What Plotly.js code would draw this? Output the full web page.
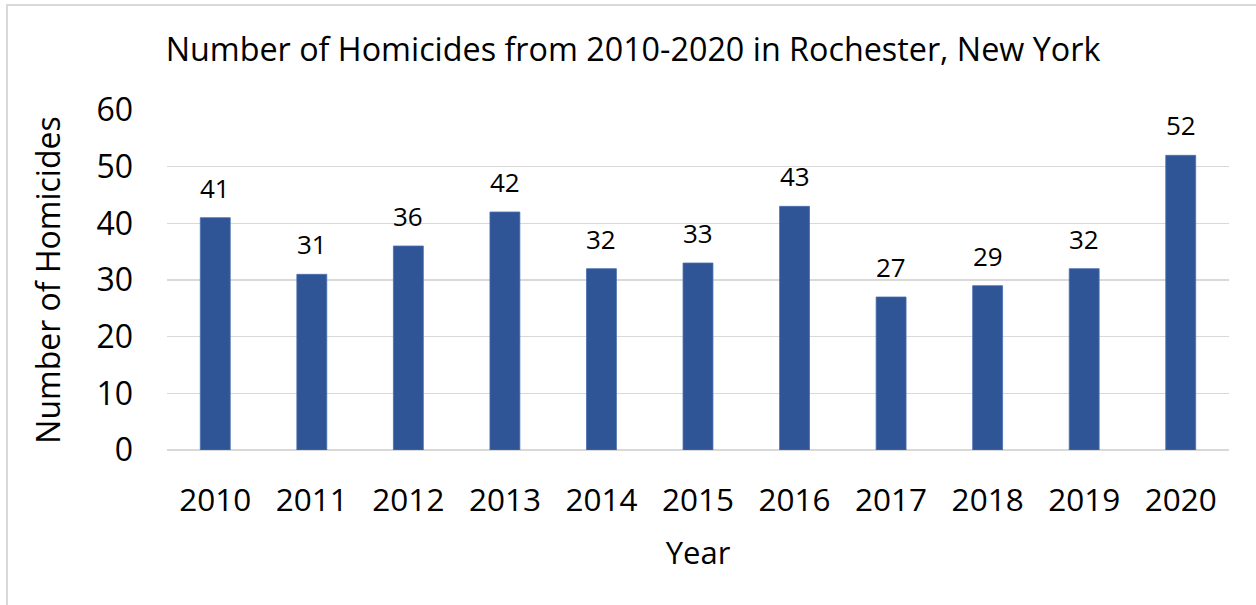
<!DOCTYPE html>
<html>
<head>
<meta charset="utf-8">
<script src="https://cdn.plot.ly/plotly-3.0.1.min.js"></script>
<style>
html,body{margin:0;padding:0;background:#fff;}
#wrap{position:relative;width:1256px;height:605px;overflow:hidden;}
#chart{width:1256px;height:605px;}
#frame{position:absolute;left:6px;top:4px;width:1300px;height:700px;border-left:2px solid #d9d9d9;border-top:2px solid #d9d9d9;pointer-events:none;}
</style>
</head>
<body>
<div id="wrap"><div id="chart"></div><div id="frame"></div></div>
<script>
const years = ['2010','2011','2012','2013','2014','2015','2016','2017','2018','2019','2020'];
const homicides = [41, 31, 36, 42, 32, 33, 43, 27, 29, 32, 52];
const yTicks = [0, 10, 20, 30, 40, 50, 60];

const FONT = 'Open Sans, sans-serif';
const trace = {
  type: 'bar',
  x: years,
  y: homicides,
  marker: {color: '#2F5597', line: {color: '#4a6fae', width: 0.8}},
  hoverinfo: 'x+y'
};

// category axis: annotations placed by category index
const labels = years.map((yr, i) => ({
  x: i, y: homicides[i], xref: 'x', yref: 'y',
  text: String(homicides[i]), showarrow: false,
  yanchor: 'bottom', yshift: 10,
  font: {family: FONT, size: 26, color: '#000'}
}));

const layout = {
  width: 1256, height: 605,
  margin: {l: 167, r: 27, t: 110, b: 155},
  paper_bgcolor: '#fff', plot_bgcolor: '#fff',
  bargap: 0.69,
  showlegend: false,
  title: {
    text: 'Number of Homicides from 2010-2020 in Rochester, New York',
    font: {family: FONT, size: 32.3, color: '#000'},
    x: 633/1256, xref: 'container', xanchor: 'center',
    y: 1 - 50/605, yref: 'container', yanchor: 'middle'
  },
  xaxis: {
    type: 'category',
    categoryorder: 'array', categoryarray: years,
    range: [-0.5, years.length - 0.5],
    tickfont: {family: FONT, size: 31.5, color: '#000'},
    ticks: '', showgrid: false, showline: false, zeroline: false,
    ticklabelstandoff: 28,
    title: {text: 'Year', font: {family: FONT, size: 31, color: '#000'}, standoff: 23}
  },
  yaxis: {
    range: [0, 60],
    tickvals: yTicks, ticktext: yTicks.map(String),
    tickfont: {family: FONT, size: 32, color: '#000'},
    ticks: '', showgrid: true, gridcolor: '#d9d9d9', gridwidth: 1.5,
    zeroline: true, zerolinecolor: '#d9d9d9', zerolinewidth: 1.5,
    showline: false,
    ticklabelstandoff: 33,
    title: {text: 'Number of Homicides', font: {family: FONT, size: 32, color: '#000'}, standoff: 26}
  },
  annotations: labels
};

Plotly.newPlot('chart', [trace], layout, {displayModeBar: false, staticPlot: true});
</script>
</body>
</html>
